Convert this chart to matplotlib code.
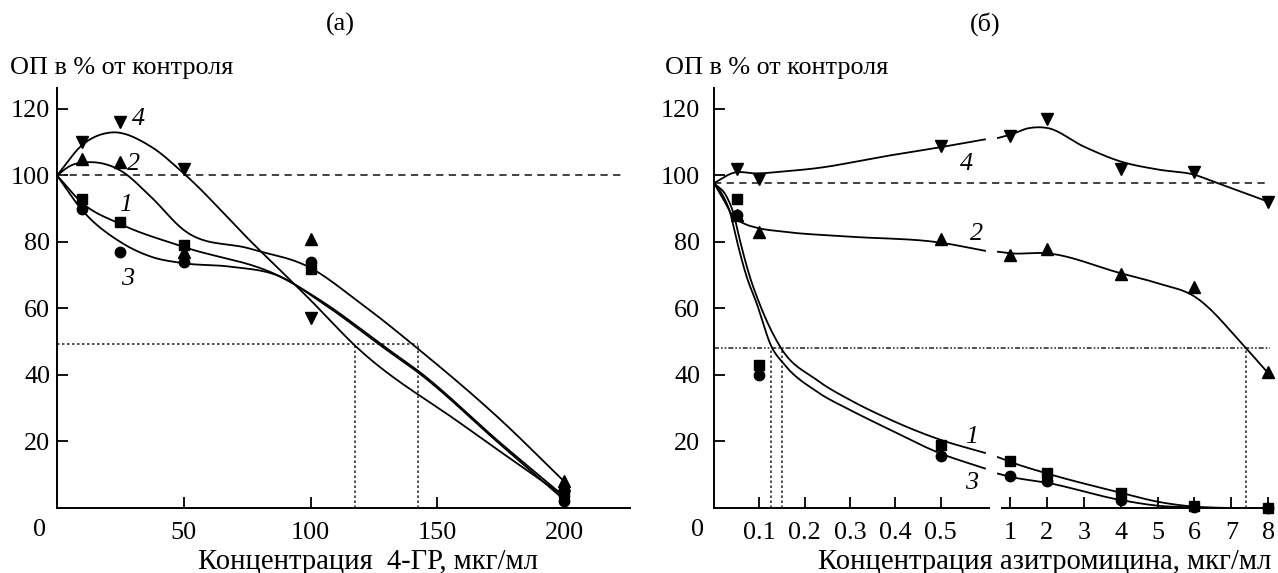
import numpy as np
import matplotlib
matplotlib.use("Agg")
import matplotlib.pyplot as plt

plt.rcParams['font.family'] = ['Liberation Serif', 'DejaVu Serif']

# ---------------- data: panel (а) ----------------
conc_a = [10, 25, 50, 100, 200]
a_s1 = [93, 86, 79, 72, 4.5]      # squares, curve 1
a_s2 = [105, 104, 77, 81, 8]      # up triangles, curve 2
a_s3 = [90, 77, 74, 74, 2]        # circles, curve 3
a_s4 = [110, 116, 102, 57, 3.5]   # down triangles, curve 4

# fitted curves (knots)
ka1_x = [0, 10, 25, 50, 88, 104, 131, 142, 175, 200]
ka1_y = [100, 91.7, 85.4, 78.5, 69.6, 62.4, 47.5, 41.5, 19.5, 3.5]
ka2_x = [0, 5, 13, 25, 37, 50, 76, 100, 118, 143, 175, 200]
ka2_y = [100, 102.8, 104, 101.5, 93.6, 83.6, 78.0, 72.2, 62.6, 47.5, 26.5, 8]
ka3_x = [0, 10, 25, 37, 50, 68, 88, 104, 131, 142, 175, 200]
ka3_y = [100, 89.5, 80, 75.6, 73.6, 72.6, 69.6, 62, 47, 41, 19, 2.5]
ka4_x = [0, 10, 21, 37, 50, 76, 100, 118, 160, 200]
ka4_y = [100, 109.2, 112.9, 108.7, 100.6, 80.5, 62.5, 48.5, 25, 3.5]

a_ctrl = 100
a_half = 49.3
a_ic50 = [117.6, 142.5]

# ---------------- data: panel (б) ----------------
conc_b = [0.05, 0.1, 0.5, 1, 2, 4, 6, 8]
b_s1 = [93, 43, 19, 14, 10.5, 4.5, 0.5, 0]
b_s2 = [88, 83, 81, 76, 78, 70.5, 66.5, 41]
b_s3 = [88, 40, 15.5, 9.5, 8, 2.5, 0.3, 0]
b_s4 = [102, 99, 109, 112, 117, 102, 101, 92]

kb1_lo_x = [0, 0.028, 0.043, 0.057, 0.079, 0.1, 0.146, 0.227, 0.30, 0.374, 0.50, 0.60]
kb1_lo_y = [97.7, 93.6, 88.6, 80.6, 69.6, 61.6, 48.5, 38.5, 32.5, 27.5, 20.5, 16.5]
kb1_hi_x = [0.65, 1, 2, 4, 5, 6, 7, 8]
kb1_hi_y = [15.4, 13.9, 10.4, 4.6, 1.9, 0.4, 0, 0]
kb3_lo_x = [0, 0.021, 0.036, 0.05, 0.072, 0.094, 0.127, 0.153, 0.227, 0.30, 0.374, 0.50, 0.60]
kb3_lo_y = [97.7, 93.6, 88.6, 80.6, 69.6, 61.6, 48.5, 43.5, 35, 29.5, 24.5, 16.4, 11.8]
kb3_hi_x = [0.65, 1, 2, 4, 5, 6, 7, 8]
kb3_hi_y = [10.4, 9.4, 7.6, 2.4, 0.7, 0.2, 0, 0]
kb2_lo_x = [0, 0.02, 0.043, 0.065, 0.094, 0.153, 0.30, 0.50, 0.60]
kb2_lo_y = [97.7, 93, 87.6, 85.6, 84.3, 83.1, 81.6, 79.8, 77.3]
kb2_hi_x = [0.65, 1, 2, 4, 5, 6, 7.36, 8]
kb2_hi_y = [77.1, 76.6, 76.6, 70.6, 67.6, 63.6, 48.5, 40.5]
kb4_lo_x = [0, 0.043, 0.094, 0.153, 0.227, 0.374, 0.50, 0.60]
kb4_lo_y = [97.7, 100.8, 100.6, 101.2, 102.2, 105.7, 108.5, 110.9]
kb4_hi_x = [0.65, 1, 1.5, 2, 3, 4, 5, 6, 6.6, 8]
kb4_hi_y = [111.2, 112.2, 114.2, 114.3, 108.7, 104.2, 101.8, 100.2, 97.8, 92.1]

b_ctrl = 97.7
b_half = 48.2
b_ic50_lo = [0.126, 0.15]
b_ic50_hi = [7.4]

xt_a = [50, 100, 150, 200]
xt_b_lo = [0.1, 0.2, 0.3, 0.4, 0.5]
xt_b_hi = [1, 2, 3, 4, 5, 6, 7, 8]
yt = [20, 40, 60, 80, 100, 120]


def smooth(xk, yk, xs):
    """Cubic Hermite curve through the knots with Bessel (parabolic) tangents."""
    xk = np.asarray(xk, float); yk = np.asarray(yk, float)
    h = np.diff(xk); d = np.diff(yk) / h
    n = len(xk)
    m = np.zeros(n)
    for k in range(1, n - 1):
        m[k] = (h[k] * d[k - 1] + h[k - 1] * d[k]) / (h[k - 1] + h[k])
    m[0] = d[0]; m[-1] = d[-1]
    idx = np.clip(np.searchsorted(xk, xs) - 1, 0, n - 2)
    t = (xs - xk[idx]) / h[idx]
    h00 = 2 * t**3 - 3 * t**2 + 1; h10 = t**3 - 2 * t**2 + t
    h01 = -2 * t**3 + 3 * t**2; h11 = t**3 - t**2
    return (h00 * yk[idx] + h10 * h[idx] * m[idx] + h01 * yk[idx + 1]
            + h11 * h[idx] * m[idx + 1])


def curve(ax, xk, yk, n=500):
    xs = np.linspace(xk[0], xk[-1], n)
    ax.plot(xs, smooth(xk, yk, xs), color='black', lw=1.3, zorder=3,
            solid_capstyle='butt')


FS = 18.8
FSX = 20.6
W, H = 1278, 573
fig = plt.figure(figsize=(W / 100, H / 100), dpi=100)


def pos(x0, x1, ytop, ybot):
    return [x0 / W, 1 - ybot / H, (x1 - x0) / W, (ybot - ytop) / H]


mk = dict(color='black', ls='none', zorder=4)
style_markers = [('s', 7), ('^', 8), ('o', 7.5), ('v', 8)]


def style_axis(ax):
    for s in ['top', 'right']:
        ax.spines[s].set_visible(False)
    for s in ['left', 'bottom']:
        ax.spines[s].set_linewidth(1.4)
    ax.tick_params(direction='in', length=8, width=1.3, labelsize=FS)


# ---------- panel (а) ----------
axa = fig.add_axes(pos(57, 630, 88, 508))
axa.set_xlim(0, 226)
axa.set_ylim(0, 126.3)
style_axis(axa)
axa.set_xticks(xt_a)
axa.set_yticks(yt)
axa.tick_params(axis='x', pad=10)
axa.tick_params(axis='y', pad=5)

axa.axhline(a_ctrl, xmin=0, xmax=223 / 226, color='#333333', lw=1.3, ls=(0, (4, 3)))
axa.plot([0, a_ic50[1]], [a_half, a_half], color='#333333', lw=1.2, ls=(0, (1.5, 1.5)))
for xv in a_ic50:
    axa.plot([xv, xv], [0, a_half], color='#333333', lw=1.2, ls=(0, (1.5, 1.5)))

for (kx, ky) in [(ka1_x, ka1_y), (ka2_x, ka2_y), (ka3_x, ka3_y), (ka4_x, ka4_y)]:
    curve(axa, kx, ky)
for ys, (m, s) in zip([a_s1, a_s2, a_s3, a_s4], style_markers):
    axa.plot(conc_a, ys, marker=m, ms=s, **mk)

for txt, x, y in [('4', 32, 117), ('2', 30, 103.5), ('1', 27, 91), ('3', 28, 69)]:
    axa.text(x, y, txt, fontsize=FS, style='italic', ha='center', va='center')

fig.text(40 / W, 1 - 530 / H, '0', fontsize=FS, ha='center', va='center')
fig.text(10 / W, 1 - 68 / H, 'ОП в % от контроля', fontsize=FS, ha='left', va='center')
fig.text(368 / W, 1 - 562 / H, 'Концентрация  4-ГР, мкг/мл', fontsize=FSX, ha='center', va='center')
fig.text(340 / W, 1 - 24 / H, '(а)', fontsize=FS, ha='center', va='center')

# ---------- panel (б) ----------
axb1 = fig.add_axes(pos(714, 989, 88, 508))
axb1.set_xlim(0, 0.607)
axb1.set_ylim(0, 126.3)
style_axis(axb1)
axb1.set_xticks(xt_b_lo)
axb1.set_xticklabels([f'{v:g}' for v in xt_b_lo])
axb1.set_yticks(yt)
axb1.tick_params(axis='x', pad=10)
axb1.tick_params(axis='y', pad=10)

axb2 = fig.add_axes(pos(997, 1272, 88, 508))
axb2.set_xlim(0.65, 8.1)
axb2.set_ylim(0, 126.3)
style_axis(axb2)
axb2.spines['left'].set_visible(False)
axb2.spines['bottom'].set_bounds(0.78, 8.1)
axb2.set_xticks(xt_b_hi)
axb2.set_yticks([])
axb2.tick_params(axis='x', pad=10)
axb2.patch.set_alpha(0)

span = (1270 - 714) / (989 - 714)
axb1.axhline(b_ctrl, xmin=0, xmax=span, color='#333333', lw=1.3, ls=(0, (4, 3)), clip_on=False)
axb1.axhline(b_half, xmin=0, xmax=span, color='#333333', lw=1.2,
             ls=(0, (3, 1.2, 1, 1.2, 1, 1.2)), clip_on=False)
for xv in b_ic50_lo:
    axb1.plot([xv, xv], [0, b_half], color='#333333', lw=1.2, ls=(0, (1.5, 1.5)))
for xv in b_ic50_hi:
    axb2.plot([xv, xv], [0, b_half], color='#333333', lw=1.2, ls=(0, (1.5, 1.5)))

for (kx, ky) in [(kb1_lo_x, kb1_lo_y), (kb2_lo_x, kb2_lo_y), (kb3_lo_x, kb3_lo_y), (kb4_lo_x, kb4_lo_y)]:
    curve(axb1, kx, ky)
for (kx, ky) in [(kb1_hi_x, kb1_hi_y), (kb2_hi_x, kb2_hi_y), (kb3_hi_x, kb3_hi_y), (kb4_hi_x, kb4_hi_y)]:
    curve(axb2, kx, ky)

cb = np.array(conc_b)
lo = cb < 0.7
for ys, (m, s) in zip([b_s1, b_s2, b_s3, b_s4], style_markers):
    ys = np.array(ys)
    axb1.plot(cb[lo], ys[lo], marker=m, ms=s, clip_on=False, **mk)
    axb2.plot(cb[~lo], ys[~lo], marker=m, ms=s, clip_on=False, **mk)

for txt, x, y in [('4', 0.557, 103.5), ('2', 0.580, 82.5), ('1', 0.568, 21.5), ('3', 0.568, 7.5)]:
    axb1.text(x, y, txt, fontsize=FS, style='italic', ha='center', va='center')

fig.text(698 / W, 1 - 530 / H, '0', fontsize=FS, ha='center', va='center')
fig.text(665 / W, 1 - 68 / H, 'ОП в % от контроля', fontsize=FS, ha='left', va='center')
fig.text(1045 / W, 1 - 562 / H, 'Концентрация азитромицина, мкг/мл', fontsize=FSX, ha='center', va='center')
fig.text(985 / W, 1 - 24 / H, '(б)', fontsize=FS, ha='center', va='center')

fig.savefig('out.png', dpi=100)
